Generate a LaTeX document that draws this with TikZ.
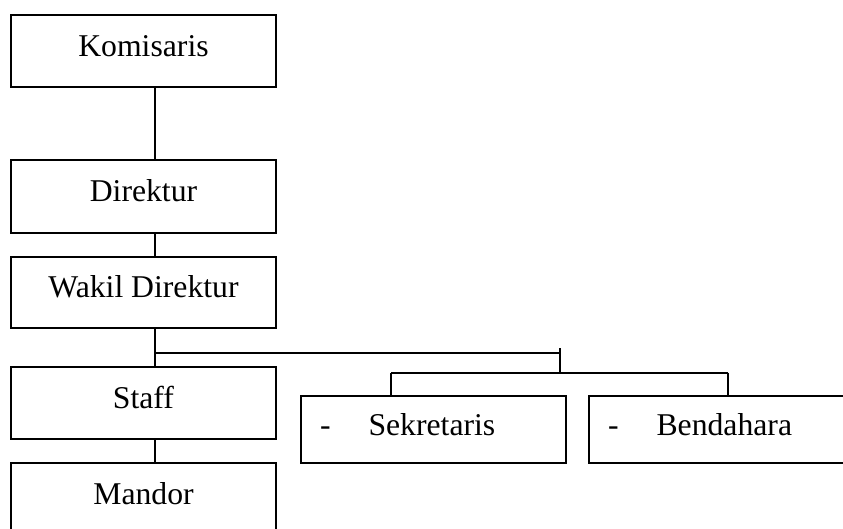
\documentclass[tikz,border=0pt]{standalone}
\usepackage{fontspec}
\setmainfont{Liberation Serif}
\begin{document}
\begin{tikzpicture}[x=1pt,y=-1pt,
  box/.style={draw,line width=1.6pt,inner sep=0pt,minimum width=265pt,
    font=\fontsize{31.7}{38}\selectfont,text height=21pt,text depth=10pt},
  listbox/.style={box,text width=227pt,inner xsep=19pt,align=left},
  link/.style={line width=1.6pt}]
\useasboundingbox (0,0) rectangle (843,529);
\clip (0,0) rectangle (843,529);
\node[box,minimum height=72pt] (kom) at (143.5,51) {Komisaris};
\node[box,minimum height=73pt] (dir) at (143.5,196.5) {Direktur};
\node[box,minimum height=71pt] (wak) at (143.5,292.5) {Wakil Direktur};
\node[box,minimum height=72pt] (staff) at (143.5,403) {Staff};
\node[box,minimum height=72pt] (mandor) at (143.5,499) {Mandor};
\node[listbox,minimum height=67pt] (sek) at (433.5,429.5) {-\hspace{38pt}Sekretaris};
\node[listbox,minimum height=67pt] (ben) at (721.5,429.5) {-\hspace{38pt}Bendahara};
\coordinate (spine) at (155,0);
\coordinate (j1) at (155,353);
\coordinate (j2) at (561,353);
\coordinate (t1) at (560,348);
\coordinate (t2) at (560,372.7);
\coordinate (b1) at (391,372.7);
\coordinate (b2) at (728,372.7);
\draw[link] (kom.south -| spine) -- (dir.north -| spine);
\draw[link] (dir.south -| spine) -- (wak.north -| spine);
\draw[link] (wak.south -| spine) -- (staff.north -| spine);
\draw[link] (staff.south -| spine) -- (mandor.north -| spine);
\draw[link] (j1) -- (j2);
\draw[link] (t1) -- (t2);
\draw[link] (b1) -- (b2);
\draw[link] (b1) -- (sek.north -| b1);
\draw[link] (b2) -- (ben.north -| b2);
\end{tikzpicture}
\end{document}
